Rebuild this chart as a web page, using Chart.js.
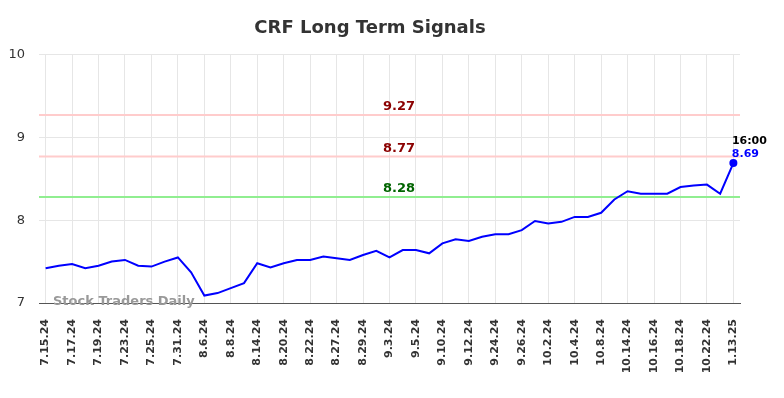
<!DOCTYPE html>
<html>
<head>
<meta charset="utf-8">
<script src="https://cdn.jsdelivr.net/npm/chart.js@4"></script>
<style>
  html, body { margin: 0; padding: 0; background: #fff; }
  #wrap { width: 784px; height: 398px; }
</style>
</head>
<body>
<div id="wrap"><canvas id="chart" width="784" height="398"></canvas></div>
<script>
// tick labels (every other trading day is labelled)
const tickLabels = ['7.15.24', '7.17.24', '7.19.24', '7.23.24', '7.25.24', '7.31.24', '8.6.24', '8.8.24',
  '8.14.24', '8.20.24', '8.22.24', '8.27.24', '8.29.24', '9.3.24', '9.5.24', '9.10.24', '9.12.24',
  '9.24.24', '9.26.24', '10.2.24', '10.4.24', '10.8.24', '10.14.24', '10.16.24', '10.18.24',
  '10.22.24', '1.13.25'];

// closing prices
const prices = [7.42, 7.45, 7.47, 7.42, 7.45, 7.50, 7.52, 7.45, 7.44, 7.50,
  7.55, 7.37, 7.09, 7.12, 7.18, 7.24, 7.48, 7.43, 7.48, 7.52,
  7.52, 7.56, 7.54, 7.52, 7.58, 7.63, 7.55, 7.64, 7.64, 7.60,
  7.72, 7.77, 7.75, 7.80, 7.83, 7.83, 7.88, 7.99, 7.96, 7.98,
  8.04, 8.04, 8.09, 8.25, 8.35, 8.32, 8.32, 8.32, 8.40, 8.42,
  8.43, 8.32, 8.69];

// signal levels
const signalValues = [9.27, 8.77, 8.28];
const signalLineColors = ['#ffcccc', '#ffcccc', '#90ee90'];
const signalTextColors = ['#8b0000', '#8b0000', '#006400'];

const lastTime = '16:00';

// one label slot per price, only even slots get a date
const labels = prices.map((p, i) => i % 2 === 0 ? tickLabels[i / 2] : '');

const FONT = 'DejaVu Sans';

// draws signal lines, last price tags and watermark
const overlayPlugin = {
  id: 'overlay',
  beforeDatasetsDraw(chart) {
    const { ctx, chartArea, scales } = chart;
    ctx.save();
    signalValues.forEach((v, i) => {
      const y = scales.y.getPixelForValue(v);
      ctx.strokeStyle = signalLineColors[i];
      ctx.lineWidth = 2;
      ctx.beginPath();
      ctx.moveTo(chartArea.left, y);
      ctx.lineTo(chartArea.right, y);
      ctx.stroke();
      ctx.fillStyle = signalTextColors[i];
      ctx.font = 'bold 13px ' + FONT;
      ctx.textAlign = 'center';
      ctx.textBaseline = 'middle';
      ctx.fillText(v.toFixed(2), 399, y - 8);
    });
    ctx.fillStyle = '#999';
    ctx.font = 'bold 13px ' + FONT;
    ctx.textAlign = 'left';
    ctx.textBaseline = 'middle';
    ctx.fillText('Stock Traders Daily', chartArea.left + 14, chartArea.bottom - 1);
    ctx.restore();
  },
  afterDatasetsDraw(chart) {
    const { ctx, scales } = chart;
    const last = prices.length - 1;
    const x = scales.x.getPixelForValue(last);
    const y = scales.y.getPixelForValue(prices[last]);
    ctx.save();
    ctx.font = 'bold 11px ' + FONT;
    ctx.textAlign = 'center';
    ctx.textBaseline = 'middle';
    ctx.fillStyle = '#000';
    ctx.fillText(lastTime, x + 16, y - 22);
    ctx.fillStyle = '#0000ff';
    ctx.fillText(prices[last].toFixed(2), x + 12, y - 9);
    ctx.restore();
  }
};

function initChart() {
  const ctx = document.getElementById('chart').getContext('2d');
  new Chart(ctx, {
    type: 'line',
    data: {
      labels: labels,
      datasets: [{
        data: prices,
        borderColor: '#0000ff',
        borderWidth: 2,
        tension: 0,
        fill: false,
        pointRadius: prices.map((p, i) => i === prices.length - 1 ? 4 : 0),
        pointBackgroundColor: '#0000ff',
        pointBorderWidth: 0
      }]
    },
    options: {
      responsive: false,
      animation: false,
      layout: { padding: { top: 0, right: 44, left: 0, bottom: 0 } },
      plugins: {
        legend: { display: false },
        tooltip: { enabled: false },
        title: {
          display: true,
          text: 'CRF Long Term Signals',
          color: '#333',
          font: { family: FONT, size: 18, weight: 'bold' },
          padding: { top: 18, bottom: 15 }
        }
      },
      scales: {
        x: {
          offset: true,
          grid: {
            offset: false,
            drawTicks: false,
            color: c => (c.index % 2 === 0 ? '#e6e6e6' : 'rgba(0,0,0,0)')
          },
          border: { color: '#555', width: 1 },
          ticks: {
            autoSkip: false,
            maxRotation: 90,
            minRotation: 90,
            padding: 16,
            color: '#333',
            font: { family: FONT, size: 11, weight: 'bold' }
          },
          afterFit: s => { s.height = 95; }
        },
        y: {
          min: 7,
          max: 10,
          grid: { drawTicks: false, color: '#e6e6e6' },
          border: { display: false },
          ticks: {
            stepSize: 1,
            padding: 14,
            color: '#333',
            font: { family: FONT, size: 13 }
          },
          afterFit: s => { s.width = 39; }
        }
      }
    },
    plugins: [overlayPlugin]
  });
}

document.addEventListener('DOMContentLoaded', initChart);
</script>
</body>
</html>
